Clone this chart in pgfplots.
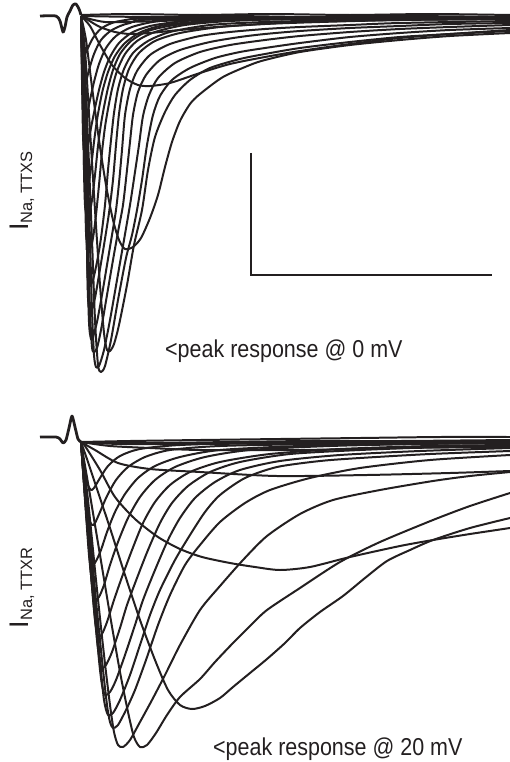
\documentclass[border=0pt]{standalone}
\usepackage{pgfplots}
\pgfplotsset{compat=1.18}
\usepackage{graphicx}
\usepackage{fontspec}
\setmainfont{Liberation Sans}
\definecolor{ink}{HTML}{231F20}
\begin{document}
\begin{tikzpicture}
\useasboundingbox (0,0) rectangle (510bp,762bp);
\begin{axis}[at={(0,0)}, anchor=south west, scale only axis,
  width=510bp, height=762bp, xmin=0, xmax=510, ymin=0, ymax=762,
  y dir=reverse, hide axis, clip=false,
  tr/.style={ink, line width=2pt, smooth, tension=0.45, no markers, line join=round},
  art/.style={ink, line width=2.8pt, smooth, tension=0.4, no markers, line join=round}]
% ---------------- TOP PANEL (TTXS) ----------------
\addplot[art] coordinates {(40,16)(56,16)(60,21)(63,32)(65,27)(67,17)(70,11)(73,5)(76,4)(79,9)(81,15)};
\addplot[tr] coordinates {(81,15)(130,14)(200,15)(270,14)(350,15)(430,14)(510,15)};
\addplot[tr] coordinates {(81,16)(150,17)(230,16)(310,17)(400,16)(510,17)};
\addplot[tr] coordinates {(81,16)(90,19)(105,22)(125,22)(160,21)(220,19)(300,18)(510,17)};
\addplot[tr] coordinates {(81,16)(88,20)(100,27)(115,32)(130,34)(150,33)(180,30)(230,26)(300,22)(400,20)(510,19)};
\addplot[tr] coordinates {(81,16)(90,26)(100,45)(112,65)(125,78)(138,85)(150,86)(170,83)(200,73)(230,64)(265,57)(300,51)(350,44)(400,38)(450,34)(510,30)};
\addplot[tr] coordinates {(81,16)(86,40)(92,87)(99,140)(106,185)(113,220)(119,240)(125,249)(133,247)(141,238)(150,218)(158,195)(165,167)(172,142)(180,121)(190,104)(200,94)(223,77)(250,65)(265,60)(300,52)(350,45)(400,40)(450,36)(510,33)};
\addplot[tr] coordinates {(81,16)(85,50)(90,130)(95,210)(100,285)(104,333)(107,350)(110,351)(114,344)(119,325)(127,285)(134,245)(142,210)(148,170)(155,137)(165,112)(175,95)(190,80)(210,68)(240,59)(265,54)(300,48)(350,42)(400,37)(450,34)(510,31)};
\addplot[tr] coordinates {(81,16)(84,50)(88,140)(92,240)(95,320)(98,365)(101,372)(105,366)(111,340)(118,300)(126,258)(132,235)(137,210)(142,180)(147,145)(153,115)(160,96)(172,80)(190,68)(215,58)(240,52)(265,48)(300,43)(350,37)(400,33)(450,30)(510,28)};
\addplot[tr] coordinates {(81,16)(84,55)(87,140)(90,240)(92,310)(94,355)(96,367)(99,366)(104,350)(110,320)(117,280)(124,240)(130,205)(135,172)(139,145)(143,116)(149,95)(158,78)(175,63)(200,52)(230,45)(265,40)(300,36)(350,32)(400,29)(450,27)(510,25)};
\addplot[tr] coordinates {(81,16)(84,60)(86,140)(88,230)(90,310)(92,347)(94,352)(97,348)(101,330)(107,295)(113,260)(118,232)(123,205)(127,170)(130,142)(133,115)(138,92)(146,75)(160,60)(180,50)(210,42)(240,37)(265,34)(300,31)(350,28)(400,26)(450,24)(510,23)};
\addplot[tr] coordinates {(81,16)(83,60)(85,150)(87,250)(89,322)(91,339)(93,337)(97,322)(102,295)(107,265)(112,235)(116,210)(119,183)(122,150)(125,115)(130,89)(137,71)(150,55)(170,44)(200,36)(230,32)(265,29)(300,27)(350,25)(400,23)(510,21)};
\addplot[tr] coordinates {(81,16)(83,60)(85,150)(87,250)(88,298)(90,312)(92,310)(95,298)(99,275)(104,245)(109,213)(113,180)(116,145)(119,114)(123,89)(129,69)(139,53)(155,41)(180,33)(220,27)(265,24)(320,22)(400,20)(510,19)};
\addplot[tr] coordinates {(81,16)(83,70)(85,160)(87,250)(88,278)(90,286)(93,280)(97,262)(101,238)(105,205)(108,170)(111,140)(114,113)(118,89)(124,69)(133,53)(148,41)(170,32)(210,25)(265,22)(350,20)(510,18)};
\addplot[tr] coordinates {(81,16)(83,80)(85,180)(86,232)(88,252)(90,250)(93,238)(96,215)(99,185)(102,152)(105,127)(108,109)(112,89)(117,71)(125,54)(137,41)(155,32)(185,25)(230,21)(300,19)(510,18)};
\addplot[tr] coordinates {(81,16)(83,90)(84,170)(85,205)(87,219)(89,216)(92,200)(95,175)(98,146)(101,124)(104,107)(108,88)(113,70)(120,54)(131,41)(148,31)(175,25)(220,21)(300,19)(510,17)};
\addplot[tr] coordinates {(81,16)(83,100)(84,165)(85,185)(86,190)(88,186)(91,168)(94,142)(97,120)(100,103)(103,89)(108,72)(115,56)(125,43)(141,32)(165,25)(210,21)(300,18)(510,17)};
\addplot[tr] coordinates {(81,16)(82,80)(83,135)(84,150)(86,153)(88,146)(91,128)(95,108)(99,90)(104,72)(110,57)(119,43)(133,32)(155,25)(200,20)(300,18)(510,17)};
\addplot[tr] coordinates {(81,16)(82,70)(83,110)(85,120)(87,115)(90,100)(94,82)(99,64)(106,48)(116,36)(132,27)(160,21)(220,18)(510,17)};
\addplot[tr] coordinates {(81,16)(82,60)(84,85)(86,82)(89,70)(94,54)(101,40)(112,30)(130,23)(170,19)(510,17)};
\addplot[tr] coordinates {(81,16)(82,42)(84,55)(87,50)(93,38)(102,28)(120,21)(170,18)(510,17)};
% scale bar
\addplot[ink, line width=2.4pt, no markers] coordinates {(251,153)(251,275)(492,275)};
% ---------------- BOTTOM PANEL (TTXR) ----------------
\addplot[art] coordinates {(40,437)(56,437)(60,439)(63,443)(66,440)(69,428)(72,416)(75,427)(78,439)(81,442)};
\addplot[tr] coordinates {(81,442)(130,441)(200,440)(280,439)(360,438)(440,437)(510,437)};
\addplot[tr] coordinates {(81,442)(150,443)(230,442)(310,441)(400,441)(510,440)};
\addplot[tr] coordinates {(81,442)(120,444)(200,444)(300,443)(400,442)(510,441)};
\addplot[tr] coordinates {(81,442)(110,446)(150,448)(200,450)(300,450)(400,448)(510,447)};
\addplot[tr] coordinates {(81,442)(95,450)(118,463)(150,469)(200,472)(277,476)(367,475)(450,473)(510,471)};
\addplot[tr] coordinates {(81,442)(85,446)(100,470)(115,497)(135,519)(158,537)(180,549)(202,557)(230,563)(255,567)(280,570)(310,567)(350,557)(400,546)(433,540)(470,534)(510,528)};
\addplot[tr] coordinates {(81,442)(88,462)(98,492)(110,528)(125,575)(140,620)(155,660)(168,690)(180,705)(192,709)(205,706)(220,698)(233,687)(250,673)(267,659)(285,643)(300,628)(320,612)(343,596)(365,578)(387,561)(410,550)(433,540)(470,528)(510,518)};
\addplot[tr] coordinates {(81,442)(90,495)(100,555)(110,615)(120,672)(128,712)(134,737)(140,747)(147,745)(156,733)(167,715)(180,697)(200,679)(215,662)(233,643)(250,626)(267,610)(300,588)(340,562)(380,542)(433,520)(470,506)(510,493)};
\addplot[tr] coordinates {(81,442)(88,500)(96,580)(104,655)(110,705)(114,732)(118,745)(123,747)(130,740)(140,722)(152,700)(165,675)(180,645)(200,610)(220,586)(243,560)(267,536)(300,514)(333,500)(380,490)(433,481)(470,476)(510,472)};
\addplot[tr] coordinates {(81,442)(88,510)(95,590)(102,660)(107,705)(110,722)(113,728)(118,725)(126,710)(135,690)(146,660)(158,625)(170,595)(185,565)(200,545)(220,522)(245,503)(270,490)(310,478)(360,468)(430,460)(510,455)};
\addplot[tr] coordinates {(81,442)(87,510)(94,590)(100,660)(104,700)(108,715)(113,713)(120,700)(130,675)(140,645)(150,615)(160,590)(175,560)(190,535)(205,512)(220,495)(245,478)(277,467)(320,461)(360,458)(430,454)(510,451)};
\addplot[tr] coordinates {(81,442)(87,515)(93,590)(99,660)(102,685)(105,695)(110,692)(116,680)(125,655)(135,625)(143,600)(155,570)(168,540)(180,518)(195,498)(215,482)(240,470)(280,461)(340,455)(420,451)(510,448)};
\addplot[tr] coordinates {(81,442)(86,510)(92,585)(97,640)(100,662)(102,668)(106,665)(112,652)(120,628)(127,605)(137,578)(148,550)(160,523)(172,503)(188,486)(210,472)(240,462)(290,454)(360,450)(440,447)(510,446)};
\addplot[tr] coordinates {(81,442)(86,510)(91,575)(95,620)(98,637)(102,634)(107,622)(114,600)(122,577)(132,550)(143,523)(155,502)(170,485)(190,472)(220,462)(270,454)(340,449)(430,446)(510,445)};
\addplot[tr] coordinates {(81,442)(85,500)(89,555)(93,592)(95,600)(99,597)(104,585)(110,565)(118,542)(128,518)(140,497)(155,480)(175,467)(205,457)(250,450)(330,446)(420,444)(510,443)};
\addplot[tr] coordinates {(81,442)(85,495)(89,540)(93,563)(96,561)(101,550)(107,532)(115,512)(125,494)(138,478)(155,466)(180,457)(220,450)(300,446)(400,444)(510,443)};
\addplot[tr] coordinates {(81,442)(84,480)(88,515)(92,525)(95,523)(100,512)(107,496)(116,480)(128,467)(145,457)(170,450)(220,446)(320,444)(510,442)};
\addplot[tr] coordinates {(81,442)(84,470)(88,485)(91,490)(94,488)(100,478)(108,466)(120,456)(140,449)(180,445)(260,443)(510,442)};
% ---------------- TEXT ----------------
\node[anchor=base west, inner sep=0, text=ink] at (axis cs:165,357) {\scalebox{0.88}[1]{\fontsize{24.5}{28}\selectfont <peak response @ 0 mV}};
\node[anchor=base west, inner sep=0, text=ink] at (axis cs:213,755) {\scalebox{0.88}[1]{\fontsize{24.5}{28}\selectfont <peak response @ 20 mV}};
\node[rotate=90, anchor=base, inner sep=0, text=ink] at (axis cs:28,191) {\fontsize{27}{30}\selectfont I\raisebox{-4bp}{\fontsize{16.5}{18}\selectfont Na, TTXS}};
\node[rotate=90, anchor=base, inner sep=0, text=ink] at (axis cs:28,588) {\fontsize{27}{30}\selectfont I\raisebox{-4bp}{\fontsize{16.5}{18}\selectfont Na, TTXR}};
\end{axis}
\end{tikzpicture}
\end{document}
